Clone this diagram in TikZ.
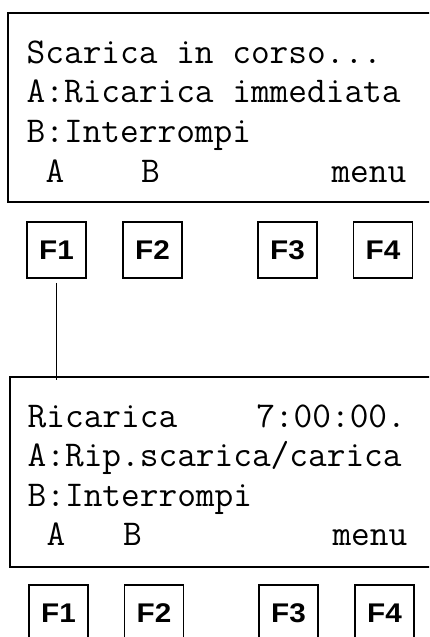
\documentclass[tikz,border=0pt]{standalone}
\usepackage{fontspec}
\newfontfamily\keyfont[FakeStretch=1.1]{Liberation Sans}
\begin{document}
\begin{tikzpicture}[x=1pt,y=-1pt,
  lcd/.style={line width=2pt},
  lcdtxt/.style={anchor=base west, inner sep=0pt, font=\ttfamily\fontsize{36.3}{40}\selectfont},
  fkey/.style={draw, line width=1.7pt, minimum width=59pt, minimum height=56pt, inner sep=0pt,
    font=\keyfont\bfseries\fontsize{27}{30}\selectfont}]
\useasboundingbox (0,0) rectangle (429,637);
\clip (0,0) rectangle (429,637);

% First screen
\draw[lcd] (8,13) rectangle (440,202);
\node[lcdtxt] (s1l1) at (26.5,63) {Scarica in corso...};
\node[lcdtxt] (s1l2) at (26.5,102.5) {A:Ricarica immediata};
\node[lcdtxt] (s1l3) at (26.5,142) {B:Interrompi};
\node[lcdtxt] (s1a) at (45.5,182.5) {A};
\node[lcdtxt] (s1b) at (140.8,182.5) {B};
\node[lcdtxt] (s1m) at (331.3,182.5) {menu};

% Keys under first screen
\node[fkey] (k1f1) at (56.5,250) {F1};
\node[fkey] (k1f2) at (152.5,250) {F2};
\node[fkey] (k1f3) at (287.5,250) {F3};
\node[fkey] (k1f4) at (383,250) {F4};

% Second screen
\draw[lcd] (10,377) rectangle (440,567);
\coordinate (s2top) at (10,380);
\node[lcdtxt] (s2l1) at (27.5,427) {Ricarica};
\node[lcdtxt] (s2t) at (256.1,427) {7:00:00.};
\node[lcdtxt] (s2l2) at (27.5,466.5) {A:Rip.scarica/carica};
\node[lcdtxt] (s2l3) at (27.5,506) {B:Interrompi};
\node[lcdtxt] (s2a) at (46.5,545.5) {A};
\node[lcdtxt] (s2b) at (122.8,545.5) {B};
\node[lcdtxt] (s2m) at (332.3,545.5) {menu};

% Keys under second screen
\node[fkey] (k2f1) at (58.5,613) {F1};
\node[fkey] (k2f2) at (154,613) {F2};
\node[fkey] (k2f3) at (288.5,613) {F3};
\node[fkey] (k2f4) at (384.5,613) {F4};

% F1 leads to the second screen
\draw[line width=1.7pt] ([yshift=-4pt]k1f1.south) -- (k1f1.south |- s2top);
\end{tikzpicture}
\end{document}
